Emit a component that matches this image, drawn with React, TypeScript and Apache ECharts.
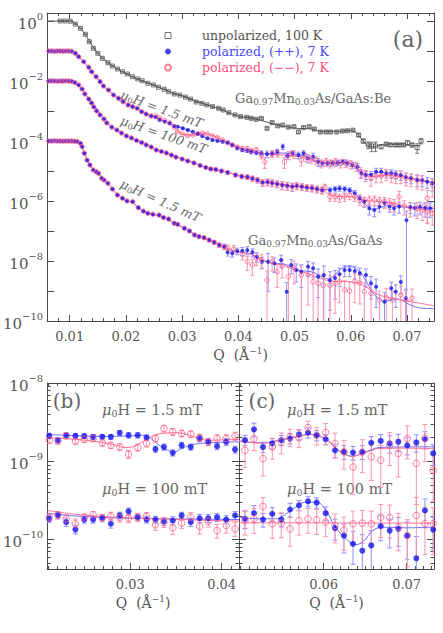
import React, { useEffect, useRef } from 'react';
import * as echarts from 'echarts';

// ---------- panel (a): [Q, I, relative error] ----------
const unpol100K = [
  [0.0083,1.0,0.03],[0.0092,1.0,0.03],[0.0101,0.98,0.03],[0.0110,0.79,0.03],[0.0119,0.57,0.03],[0.0128,0.36,0.03],
  [0.0135,0.204,0.03],[0.0142,0.123,0.03],[0.0150,0.084,0.03],[0.0158,0.057,0.03],[0.0168,0.0407,0.03],[0.0176,0.0316,0.03],
  [0.0185,0.0251,0.03],[0.0194,0.0204,0.03],[0.0203,0.0171,0.03],[0.0212,0.0139,0.03],[0.0221,0.0117,0.03],[0.0229,0.0102,0.03],
  [0.0239,0.0084,0.03],[0.0249,0.0074,0.03],[0.0258,0.0062,0.03],[0.0268,0.0053,0.03],[0.0276,0.0044,0.03],[0.0286,0.0037,0.04],
  [0.0296,0.0034,0.04],[0.0306,0.0029,0.04],[0.0315,0.0025,0.04],[0.0325,0.0020,0.04],[0.0335,0.0018,0.04],[0.0344,0.0016,0.04],
  [0.0354,0.0014,0.05],[0.0365,0.00123,0.05],[0.0373,0.00108,0.05],[0.0383,0.00088,0.05],[0.0394,0.00074,0.05],[0.0404,0.00065,0.06],
  [0.0415,0.00062,0.06],[0.0423,0.00057,0.06],[0.0432,0.00053,0.06],[0.0441,0.00057,0.07],[0.0451,0.000265,0.08],[0.0460,0.00041,0.07],
  [0.0470,0.00032,0.08],[0.0479,0.00034,0.08],[0.0489,0.00029,0.08],[0.0499,0.0003,0.08],[0.0507,0.0002,0.1],[0.0516,0.00028,0.08],
  [0.0526,0.0003,0.08],[0.0535,0.00025,0.08],[0.0546,0.0002,0.08],[0.0556,0.0002,0.08],[0.0564,0.0002,0.08],[0.0575,0.0002,0.08],
  [0.0585,0.000215,0.08],[0.0594,0.00022,0.08],[0.0604,0.00023,0.08],[0.0614,0.000158,0.1],[0.0622,0.0001,0.15],[0.0631,7.4e-5,0.25],
  [0.0637,6.8e-5,0.35],[0.0644,6.8e-5,0.35],[0.0654,6.5e-5,0.15],[0.0663,7.9e-5,0.12],[0.0670,7.4e-5,0.12],[0.0679,7.4e-5,0.12],
  [0.0686,7.4e-5,0.12],[0.0694,7.4e-5,0.12],[0.0701,8.8e-5,0.15],[0.0709,7.4e-5,0.15],[0.0718,6.0e-5,0.35],[0.0725,1.0e-4,0.2]
];
const unpol100KFit = [
  [0.006,1.0],[0.0102,1.0],[0.0106,0.95],[0.0111,0.80],[0.0118,0.60],[0.0125,0.42],[0.0132,0.27],[0.0138,0.175],[0.0145,0.11],
  [0.0152,0.077],[0.016,0.054],[0.017,0.039],[0.018,0.029],[0.019,0.0225],[0.020,0.0178],[0.021,0.0143],[0.022,0.0118],[0.023,0.0100],
  [0.024,0.0084],[0.025,0.0072],[0.026,0.0060],[0.027,0.0051],[0.028,0.0043],[0.029,0.0037],[0.030,0.0032],[0.031,0.0027],[0.032,0.0023],
  [0.033,0.0020],[0.034,0.0017],[0.035,0.0015],[0.036,0.0013],[0.037,0.00112],[0.038,0.00093],[0.039,0.00078],[0.040,0.00068],
  [0.041,0.00062],[0.042,0.00058],[0.043,0.00054],[0.044,0.00049],[0.045,0.00043],[0.046,0.00038],[0.047,0.00034],[0.048,0.00031],
  [0.049,0.00029],[0.050,0.00027],[0.051,0.00026],[0.052,0.00026],[0.053,0.00025],[0.054,0.00022],[0.055,0.00021],[0.056,0.00021],
  [0.057,0.00021],[0.058,0.00021],[0.059,0.00022],[0.060,0.00022],[0.0608,0.0002],[0.0615,0.00015],[0.0622,0.0001],[0.063,7.2e-5],
  [0.0638,6.4e-5],[0.0646,6.8e-5],[0.0655,7.6e-5],[0.0665,7.8e-5],[0.068,7.6e-5],[0.070,7.3e-5],[0.0724,7.0e-5]
];

// Ga0.97Mn0.03As/GaAs:Be, 1.5 mT (shared part where ++ and -- coincide)
const beLowShared = [
  [0.0063,0.1,0.03],[0.0068,0.1,0.03],[0.0073,0.098,0.03],[0.0078,0.1,0.03],[0.0083,0.1,0.03],[0.0088,0.099,0.03],[0.0093,0.1,0.03],
  [0.0098,0.1,0.03],[0.0103,0.098,0.03],[0.0110,0.084,0.03],[0.0116,0.0646,0.03],[0.0125,0.044,0.03],[0.0134,0.0286,0.03],
  [0.0139,0.0204,0.03],[0.0147,0.0139,0.03],[0.0154,0.0095,0.03],[0.0160,0.0068,0.03],[0.0169,0.005,0.03],[0.0178,0.0034,0.03],
  [0.0187,0.00265,0.03],[0.0195,0.00204,0.03],[0.0204,0.00158,0.03],[0.0212,0.00139,0.03],[0.0220,0.00123,0.03],[0.0228,0.00095,0.03],
  [0.0236,0.00079,0.03],[0.0245,0.00068,0.04]
];
const beLowPP = [
  [0.0253,0.00062,0.04],[0.0260,0.0005,0.04],[0.0269,0.00044,0.04],[0.0278,0.00039,0.04],[0.0286,0.000316,0.05],[0.0292,0.0003,0.05],
  [0.0301,0.000265,0.05],[0.0310,0.000233,0.05],[0.0319,0.000204,0.05],[0.0328,0.000171,0.06],[0.0336,0.000147,0.06],[0.0345,0.000123,0.06],
  [0.0354,0.000108,0.07],[0.0363,0.000102,0.07],[0.0372,9.5e-5,0.08],[0.0381,8.8e-5,0.08],[0.0389,7.4e-5,0.1],[0.0398,5.7e-5,0.1],
  [0.0407,5.0e-5,0.12],[0.0416,4.75e-5,0.12],[0.0423,4.4e-5,0.15],[0.0432,4.1e-5,0.15],[0.0441,3.9e-5,0.2],[0.0451,3.7e-5,0.25],
  [0.0460,3.9e-5,0.2],[0.0469,4.4e-5,0.2],[0.0479,6.5e-5,0.2],[0.0487,3.2e-5,0.25],[0.0496,3.9e-5,0.2],[0.0507,3.4e-5,0.25],
  [0.0516,3.9e-5,0.2],[0.0524,2.65e-5,0.3],[0.0533,3.0e-5,0.3],[0.0542,2.04e-5,0.3],[0.0550,1.8e-5,0.2],[0.0559,1.8e-5,0.2],
  [0.0568,1.85e-5,0.2],[0.0577,1.9e-5,0.2],[0.0586,2.04e-5,0.2],[0.0594,1.8e-5,0.2],[0.0603,1.58e-5,0.25],[0.0612,1.39e-5,0.3],
  [0.0619,8.4e-6,0.3],[0.0627,7.4e-6,0.3],[0.0636,7.4e-6,0.3],[0.0645,9.5e-6,0.3],[0.0654,9.5e-6,0.3],[0.0663,8.4e-6,0.3],
  [0.0672,8.4e-6,0.3],[0.0680,7.8e-6,0.3],[0.0689,7.4e-6,0.35],[0.0698,6.3e-6,0.35],[0.0707,5.8e-6,0.35],[0.0718,5.0e-6,0.4],
  [0.0727,5.0e-6,0.4],[0.0736,4.4e-6,0.4],[0.0745,3.9e-6,0.45]
];
const beLowMM = [
  [0.0253,0.00068,0.04],[0.0260,0.00058,0.04],[0.0269,0.00048,0.04],[0.0278,0.0004,0.04],[0.0286,0.00029,0.05],[0.0292,0.000204,0.05],
  [0.0301,0.000171,0.05],[0.0310,0.000153,0.05],[0.0319,0.000158,0.05],[0.0328,0.000178,0.06],[0.0336,0.000185,0.06],[0.0345,0.000171,0.06],
  [0.0354,0.000147,0.07],[0.0363,0.000131,0.07],[0.0372,0.000108,0.08],[0.0381,8.9e-5,0.08],[0.0389,7.4e-5,0.1],[0.0398,6.3e-5,0.1],
  [0.0407,5.6e-5,0.15],[0.0416,5.4e-5,0.2],[0.0423,4.6e-5,0.2],[0.0432,5.0e-5,0.2],[0.0441,3.4e-5,0.25],[0.0447,2.04e-5,0.4],
  [0.0460,3.7e-5,0.25],[0.0470,3.9e-5,0.25],[0.0482,2.04e-5,0.4],[0.0490,3.4e-5,0.3],[0.0499,3.7e-5,0.3],[0.0512,2.3e-5,0.35],
  [0.0520,2.9e-5,0.3],[0.0529,2.5e-5,0.3],[0.0538,2.3e-5,0.3],[0.0547,1.8e-5,0.3],[0.0556,2.0e-5,0.3],[0.0564,1.8e-5,0.3],
  [0.0573,2.0e-5,0.3],[0.0582,1.8e-5,0.3],[0.0591,1.85e-5,0.3],[0.0600,1.7e-5,0.3],[0.0609,1.47e-5,0.35],[0.0617,9.3e-6,0.4],
  [0.0626,7.4e-6,0.4],[0.0636,5.7e-6,0.45],[0.0645,6.8e-6,0.4],[0.0654,6.8e-6,0.4],[0.0663,7.9e-6,0.4],[0.0672,6.8e-6,0.4],
  [0.0680,6.3e-6,0.4],[0.0689,6.8e-6,0.45],[0.0698,5.8e-6,0.45],[0.0707,5.4e-6,0.45],[0.0718,5.0e-6,0.5],[0.0727,4.6e-6,0.5],
  [0.0736,1.23e-6,0.85],[0.0745,3.4e-6,0.6]
];
const beLowFitShared = [
  [0.006,0.1],[0.0104,0.1],[0.0108,0.092],[0.0113,0.078],[0.0118,0.061],[0.0125,0.044],[0.0132,0.031],[0.0139,0.021],[0.0146,0.0145],
  [0.0153,0.0100],[0.016,0.0070],[0.0168,0.0051],[0.0176,0.0037],[0.0185,0.0028],[0.0195,0.0021],[0.0205,0.0016],[0.0215,0.00135],
  [0.0225,0.00105],[0.0235,0.00082],[0.0245,0.00068]
];
const beLowFitPP = [
  [0.0255,0.00058],[0.0265,0.00047],[0.0275,0.0004],[0.0285,0.00033],[0.0295,0.00029],[0.0305,0.00025],[0.0315,0.00021],[0.0325,0.000175],
  [0.0335,0.00015],[0.0345,0.000125],[0.0355,0.00011],[0.0365,0.0001],[0.0375,9.2e-5],[0.0385,8.2e-5],[0.0395,6.4e-5],[0.0405,5.2e-5],
  [0.0415,4.6e-5],[0.0425,4.3e-5],[0.0435,4.0e-5],[0.0445,3.8e-5],[0.0455,3.8e-5],[0.0465,3.9e-5],[0.0475,4.0e-5],[0.0485,3.9e-5],
  [0.0495,3.7e-5],[0.0505,3.5e-5],[0.0515,3.3e-5],[0.0525,2.8e-5],[0.0535,2.3e-5],[0.0545,1.9e-5],[0.0555,1.8e-5],[0.0565,1.8e-5],
  [0.0575,1.9e-5],[0.0585,1.95e-5],[0.0595,1.9e-5],[0.0603,1.6e-5],[0.061,1.2e-5],[0.0618,9.2e-6],[0.0626,7.8e-6],[0.0635,7.8e-6],
  [0.0645,8.8e-6],[0.0655,9.0e-6],[0.0665,8.7e-6],[0.0675,8.2e-6],[0.0685,7.6e-6],[0.0695,6.8e-6],[0.0705,6.0e-6],[0.0715,5.3e-6],
  [0.0725,4.9e-6],[0.0735,4.5e-6],[0.0748,4.0e-6]
];
const beLowFitMM = [
  [0.0255,0.00062],[0.0265,0.0005],[0.0275,0.00041],[0.0285,0.0003],[0.0293,0.00021],[0.030,0.000175],[0.031,0.000158],[0.032,0.00016],
  [0.033,0.000174],[0.034,0.000178],[0.035,0.000163],[0.036,0.000138],[0.037,0.000113],[0.038,9.2e-5],[0.039,7.5e-5],[0.040,6.3e-5],
  [0.041,5.5e-5],[0.042,4.9e-5],[0.043,4.5e-5],[0.044,4.0e-5],[0.045,3.7e-5],[0.046,3.6e-5],[0.047,3.5e-5],[0.048,3.4e-5],[0.049,3.3e-5],
  [0.050,3.2e-5],[0.051,3.0e-5],[0.052,2.7e-5],[0.053,2.4e-5],[0.054,2.1e-5],[0.055,1.9e-5],[0.056,1.9e-5],[0.057,1.9e-5],[0.058,1.8e-5],
  [0.059,1.82e-5],[0.060,1.7e-5],[0.061,1.3e-5],[0.062,8.8e-6],[0.063,6.8e-6],[0.064,6.6e-6],[0.065,7.0e-6],[0.066,7.2e-6],[0.068,6.8e-6],
  [0.070,6.1e-6],[0.072,5.2e-6],[0.0748,4.2e-6]
];

// Ga0.97Mn0.03As/GaAs:Be, 100 mT
const beHighShared = [
  [0.0063,0.01,0.03],[0.0068,0.0101,0.03],[0.0073,0.01,0.03],[0.0078,0.0099,0.03],[0.0083,0.01,0.03],[0.0088,0.01,0.03],[0.0093,0.0101,0.03],
  [0.0098,0.01,0.03],[0.0103,0.0098,0.03],[0.0109,0.0089,0.03],[0.0116,0.0074,0.03],[0.0122,0.0054,0.03],[0.0127,0.0037,0.03],
  [0.0134,0.0025,0.03],[0.0139,0.00185,0.03],[0.0143,0.00136,0.03],[0.0148,0.001,0.03],[0.0154,0.00074,0.03],[0.0161,0.00054,0.03],
  [0.0166,0.0004,0.03],[0.0175,0.00029,0.03],[0.0184,0.000233,0.03],[0.0192,0.000185,0.03],[0.0201,0.000147,0.03],[0.0210,0.000126,0.03],
  [0.0219,0.000104,0.03],[0.0228,8.9e-5,0.04],[0.0236,7.4e-5,0.04],[0.0245,6.3e-5,0.04],[0.0254,5.0e-5,0.05],[0.0263,4.5e-5,0.05],
  [0.0272,4.0e-5,0.05],[0.0281,3.4e-5,0.05],[0.0289,2.9e-5,0.06],[0.0300,2.5e-5,0.06],[0.0310,2.15e-5,0.06],[0.0321,1.85e-5,0.07],
  [0.0332,1.53e-5,0.07],[0.0342,1.31e-5,0.08],[0.0351,1.17e-5,0.08],[0.0360,1.12e-5,0.1],[0.0370,1.0e-5,0.1],[0.0381,8.9e-6,0.12],
  [0.0395,7.4e-6,0.12],[0.0406,6.6e-6,0.15],[0.0416,6.3e-6,0.15],[0.0425,5.6e-6,0.2],[0.0434,5.0e-6,0.2],[0.0443,4.1e-6,0.25],
  [0.0452,4.3e-6,0.25],[0.0460,4.0e-6,0.25],[0.0469,3.7e-6,0.25],[0.0478,3.4e-6,0.3],[0.0487,3.2e-6,0.3],[0.0496,3.0e-6,0.3],
  [0.0504,3.2e-6,0.25],[0.0513,3.0e-6,0.25],[0.0522,2.8e-6,0.25],[0.0531,2.7e-6,0.25],[0.0540,2.5e-6,0.25],[0.0549,2.3e-6,0.25]
];
const beHighPP = [
  [0.0563,2.3e-6,0.2],[0.0572,2.5e-6,0.2],[0.0580,2.65e-6,0.2],[0.0589,2.5e-6,0.2],[0.0598,2.3e-6,0.2],[0.0607,1.8e-6,0.25],
  [0.0616,1.23e-6,0.3],[0.0624,9.5e-7,0.35],[0.0633,5.7e-7,0.4],[0.0642,5.0e-7,0.4],[0.0651,6.5e-7,0.35],[0.0660,8.4e-7,0.3],
  [0.0669,6.5e-7,0.35],[0.0677,5.7e-7,0.4],[0.0686,6.5e-7,0.4],[0.0699,2.3e-7,1.0],[0.0706,6.3e-7,0.4],[0.0714,5.8e-7,0.45],
  [0.0723,6.3e-7,0.45],[0.0732,5.8e-7,0.5],[0.0741,5.7e-7,0.5]
];
const beHighMM = [
  [0.0554,2.9e-6,0.25],[0.0563,1.39e-6,0.3],[0.0572,1.39e-6,0.3],[0.0580,1.29e-6,0.3],[0.0589,1.39e-6,0.3],[0.0598,1.58e-6,0.3],
  [0.0607,1.39e-6,0.3],[0.0616,1.08e-6,0.35],[0.0624,1.0e-6,0.35],[0.0633,1.08e-6,0.35],[0.0642,1.08e-6,0.35],[0.0651,1.0e-6,0.35],
  [0.0660,9.3e-7,0.4],[0.0669,8.6e-7,0.4],[0.0677,7.8e-7,0.45],[0.0686,1.39e-6,0.5],[0.0695,6.8e-7,0.5],[0.0706,5.8e-7,0.5],
  [0.0718,5.7e-7,0.55],[0.0727,5.0e-7,0.55],[0.0736,4.4e-7,0.6],[0.0745,3.9e-7,0.6]
];
const beHighFitShared = [
  [0.006,0.01],[0.0104,0.01],[0.0108,0.0092],[0.0113,0.0080],[0.0118,0.0064],[0.0123,0.0050],[0.0128,0.0036],[0.0134,0.0026],[0.014,0.0018],
  [0.0146,0.00125],[0.0152,0.00088],[0.0158,0.00064],[0.0165,0.00045],[0.0172,0.00033],[0.018,0.00025],[0.019,0.000195],[0.020,0.000153],
  [0.021,0.000125],[0.022,0.000104],[0.023,8.7e-5],[0.024,7.1e-5],[0.025,5.7e-5],[0.026,4.7e-5],[0.027,4.1e-5],[0.028,3.5e-5],[0.029,3.0e-5],
  [0.030,2.5e-5],[0.031,2.2e-5],[0.032,1.9e-5],[0.033,1.6e-5],[0.034,1.38e-5],[0.035,1.22e-5],[0.036,1.1e-5],[0.037,1.01e-5],[0.038,9.1e-6],
  [0.039,8.1e-6],[0.040,7.0e-6],[0.041,6.5e-6],[0.042,5.9e-6],[0.043,5.2e-6],[0.044,4.5e-6],[0.045,4.2e-6],[0.046,4.0e-6],[0.047,3.7e-6],
  [0.048,3.5e-6],[0.049,3.2e-6],[0.050,3.1e-6],[0.051,3.0e-6],[0.052,2.9e-6],[0.053,2.7e-6],[0.054,2.5e-6]
];
const beHighFitPP = [
  [0.055,2.4e-6],[0.056,2.4e-6],[0.057,2.5e-6],[0.058,2.6e-6],[0.059,2.5e-6],[0.060,2.2e-6],[0.061,1.6e-6],[0.062,1.0e-6],[0.063,6.6e-7],
  [0.064,5.2e-7],[0.065,5.8e-7],[0.066,6.8e-7],[0.067,7.0e-7],[0.068,6.6e-7],[0.070,6.2e-7],[0.072,6.0e-7],[0.0748,5.6e-7]
];
const beHighFitMM = [
  [0.055,2.2e-6],[0.056,1.7e-6],[0.057,1.5e-6],[0.058,1.4e-6],[0.059,1.4e-6],[0.060,1.4e-6],[0.061,1.3e-6],[0.062,1.1e-6],[0.063,1.02e-6],
  [0.064,1.0e-6],[0.066,9.2e-7],[0.068,8.0e-7],[0.070,6.6e-7],[0.072,5.5e-7],[0.0748,4.2e-7]
];

// Ga0.97Mn0.03As/GaAs, 1.5 mT
const gaasShared = [
  [0.0063,1.0e-4,0.03],[0.0068,1.0e-4,0.03],[0.0073,1.01e-4,0.03],[0.0078,1.0e-4,0.03],[0.0083,1.0e-4,0.03],[0.0088,9.9e-5,0.03],
  [0.0093,1.0e-4,0.03],[0.0098,1.0e-4,0.03],[0.0103,1.0e-4,0.03],[0.0108,9.8e-5,0.03],[0.0113,9.7e-5,0.03],[0.0119,8.4e-5,0.03],
  [0.0122,6.5e-5,0.03],[0.0126,3.9e-5,0.03],[0.0131,2.3e-5,0.03],[0.0136,1.58e-5,0.03],[0.0142,1.08e-5,0.03],[0.0147,9.5e-6,0.03],
  [0.0151,8.4e-6,0.03],[0.0157,5.7e-6,0.03],[0.0161,5.0e-6,0.03],[0.0168,3.9e-6,0.03],[0.0176,2.5e-6,0.03],[0.0185,1.58e-6,0.04],
  [0.0194,1.23e-6,0.04],[0.0202,1.0e-6,0.04],[0.0212,9.5e-7,0.04],[0.0222,6.0e-7,0.05],[0.0231,4.6e-7,0.05],[0.0239,3.9e-7,0.05],
  [0.0248,3.6e-7,0.05],[0.0259,3.4e-7,0.06],[0.0267,2.8e-7,0.06],[0.0276,2.5e-7,0.06],[0.0286,1.8e-7,0.07],[0.0292,1.67e-7,0.07],
  [0.0304,1.23e-7,0.08],[0.0313,1.0e-7,0.08],[0.0322,7.4e-8,0.1],[0.0330,6.5e-8,0.1],[0.0339,6.0e-8,0.12],[0.0348,5.0e-8,0.12],
  [0.0357,4.2e-8,0.15],[0.0366,3.4e-8,0.15],[0.0375,3.0e-8,0.2]
];
const gaasPP = [
  [0.0381,1.95e-8,0.25],[0.0389,1.8e-8,0.25],[0.0398,2.15e-8,0.25],[0.0407,2.15e-8,0.3],[0.0416,2.3e-8,0.3],[0.0425,1.95e-8,0.3],
  [0.0433,1.39e-8,0.35],[0.0442,9.5e-9,0.4],[0.0453,9.5e-9,0.9],[0.0464,8.4e-9,0.5],[0.0476,1.08e-8,0.45],[0.0486,9.5e-10,1.0],
  [0.0494,7.4e-9,0.5],[0.0503,5.0e-9,0.6],[0.0512,4.4e-9,0.7],[0.0524,6.5e-9,0.5],[0.0533,5.7e-9,0.5],[0.0542,3.0e-9,0.8],
  [0.0552,3.4e-9,1.0],[0.0563,2.3e-9,0.9],[0.0572,2.7e-9,0.8],[0.0580,3.6e-9,0.6],[0.0589,5.0e-9,0.4],[0.0598,5.0e-9,0.4],
  [0.0607,4.6e-9,0.45],[0.0616,3.9e-9,0.5],[0.0627,3.4e-9,0.6],[0.0636,1.8e-9,0.7],[0.0645,1.39e-9,0.8],[0.0660,4.4e-10,1.0],
  [0.0672,1.23e-9,0.6],[0.0680,9.5e-10,0.7],[0.0689,2.0e-9,0.6],[0.0698,5.7e-10,1.0]
];
const gaasMM = [
  [0.0381,2.7e-8,0.25],[0.0392,2.5e-8,0.3],[0.0407,1.67e-8,0.35],[0.0416,9.5e-9,0.5],[0.0425,7.4e-9,0.55],[0.0432,1.26e-8,0.45],
  [0.0441,1.08e-8,0.5],[0.0451,2.3e-9,1.0],[0.0460,9.3e-9,0.5],[0.0469,4.4e-9,0.7],[0.0478,6.8e-9,0.6],[0.0489,3.0e-9,1.0],
  [0.0499,5.8e-9,0.7],[0.0512,3.4e-9,1.0],[0.0524,3.4e-9,0.9],[0.0533,2.04e-9,1.0],[0.0542,1.8e-9,1.0],[0.0551,1.58e-9,1.0],
  [0.0563,1.58e-9,1.0],[0.0572,1.8e-9,0.9],[0.0580,2.04e-9,0.8],[0.0589,1.08e-9,1.0],[0.0598,1.0e-9,1.0],[0.0607,2.04e-9,0.8],
  [0.0616,1.85e-9,0.8],[0.0624,9.5e-10,1.0],[0.0636,8.4e-10,1.0],[0.0651,5.0e-10,1.0],[0.0663,6.0e-10,1.0],[0.0674,5.0e-10,1.0],
  [0.0689,7.4e-10,1.0],[0.0698,5.0e-10,1.0],[0.0709,5.8e-10,1.0]
];
const gaasFitShared = [
  [0.006,1e-4],[0.0109,1e-4],[0.0114,9.6e-5],[0.0118,8.5e-5],[0.0122,6.5e-5],[0.0126,4.2e-5],[0.013,2.6e-5],[0.0135,1.75e-5],[0.014,1.25e-5],
  [0.0145,1.0e-5],[0.015,8.5e-6],[0.0155,6.8e-6],[0.016,5.3e-6],[0.0165,4.3e-6],[0.017,3.5e-6],[0.0175,2.7e-6],[0.018,2.05e-6],[0.0185,1.6e-6],
  [0.019,1.35e-6],[0.0195,1.17e-6],[0.020,1.05e-6],[0.0205,9.8e-7],[0.021,9.2e-7],[0.0215,8.0e-7],[0.022,6.6e-7],[0.0225,5.5e-7],
  [0.023,4.7e-7],[0.0235,4.2e-7],[0.024,3.9e-7],[0.025,3.5e-7],[0.026,3.2e-7],[0.027,2.65e-7],[0.028,2.1e-7],[0.029,1.7e-7],[0.030,1.35e-7],
  [0.031,1.07e-7],[0.032,8.2e-8],[0.033,6.7e-8],[0.034,5.8e-8],[0.035,4.8e-8],[0.036,3.9e-8],[0.037,3.2e-8],[0.038,2.6e-8],[0.039,2.2e-8],
  [0.040,2.0e-8],[0.041,1.9e-8],[0.042,1.75e-8],[0.043,1.45e-8],[0.044,1.15e-8],[0.045,9.5e-9]
];
const gaasFitPP = [
  [0.046,8.5e-9],[0.047,8.2e-9],[0.048,8.0e-9],[0.049,7.0e-9],[0.050,5.7e-9],[0.051,4.8e-9],[0.052,4.6e-9],[0.053,4.4e-9],[0.054,3.6e-9],
  [0.055,2.9e-9],[0.056,2.5e-9],[0.057,3.2e-9],[0.058,5.0e-9],[0.059,6.3e-9],[0.060,6.4e-9],[0.061,5.5e-9],[0.062,3.6e-9],[0.063,1.7e-9],
  [0.064,8.5e-10],[0.065,5.5e-10],[0.066,4.5e-10],[0.067,5.0e-10],[0.068,5.5e-10],[0.069,5.0e-10],[0.070,3.9e-10],[0.071,3.2e-10],
  [0.072,2.8e-10],[0.0735,2.6e-10],[0.0748,2.6e-10]
];
const gaasFitMM = [
  [0.046,8.3e-9],[0.047,7.8e-9],[0.048,7.2e-9],[0.049,6.3e-9],[0.050,5.2e-9],[0.051,4.5e-9],[0.052,4.0e-9],[0.053,3.5e-9],[0.054,2.9e-9],
  [0.055,2.5e-9],[0.056,2.2e-9],[0.057,2.1e-9],[0.058,2.1e-9],[0.059,2.1e-9],[0.060,2.0e-9],[0.061,1.9e-9],[0.062,1.6e-9],[0.063,1.25e-9],
  [0.064,9.5e-10],[0.065,7.5e-10],[0.066,6.5e-10],[0.068,5.5e-10],[0.070,4.6e-10],[0.072,4.0e-10],[0.0748,3.2e-10]
];

// ---------- panel (b) ----------
const qB = [0.02112,0.02208,0.02298,0.02399,0.02496,0.02593,0.02693,0.02787,0.02884,0.02981,0.03081,0.03178,0.03275,0.03368,0.03465,0.03562,0.03662,0.03759,0.03853,0.0395,0.0405,0.04147];
const bLowPP = [2.11e-9,1.86e-9,2.15e-9,2.11e-9,2.1e-9,2.05e-9,2.05e-9,2.05e-9,2.31e-9,2.15e-9,2.15e-9,2.01e-9,1.43e-9,1.52e-9,1.28e-9,1.6e-9,1.52e-9,1.95e-9,1.77e-9,1.56e-9,1.77e-9,1.41e-9];
const bLowMM = [1.86e-9,1.82e-9,2.11e-9,1.8e-9,1.9e-9,1.95e-9,1.72e-9,1.6e-9,1.52e-9,1.23e-9,1.5e-9,1.69e-9,1.95e-9,2.62e-9,2.38e-9,2.27e-9,2.22e-9,2.01e-9,1.77e-9,1.95e-9,1.95e-9,2.1e-9];
const bHighPP = [1.84e-10,2.03e-10,1.67e-10,1.34e-10,1.8e-10,1.8e-10,1.87e-10,1.59e-10,2.03e-10,2.29e-10,1.93e-10,1.8e-10,1.8e-10,1.7e-10,1.75e-10,2.03e-10,1.67e-10,1.87e-10,1.87e-10,1.93e-10,1.8e-10,2.03e-10];
const bHighMM = [1.93e-10,2.07e-10,1.84e-10,1.59e-10,1.93e-10,2.07e-10,1.9e-10,1.99e-10,1.9e-10,1.87e-10,1.93e-10,1.97e-10,1.54e-10,1.67e-10,1.41e-10,1.62e-10,1.93e-10,1.47e-10,1.7e-10,1.3e-10,1.51e-10,1.37e-10];
const bLowPPErr = [0.08,0.08,0.07,0.07,0.07,0.07,0.07,0.07,0.07,0.08,0.08,0.08,0.09,0.09,0.09,0.09,0.09,0.09,0.1,0.1,0.1,0.1];
const bLowMMErr = [0.09,0.09,0.08,0.08,0.08,0.09,0.09,0.09,0.1,0.12,0.1,0.1,0.1,0.1,0.1,0.1,0.1,0.1,0.11,0.12,0.12,0.12];
const bHighPPErr = [0.1,0.1,0.12,0.12,0.1,0.1,0.1,0.12,0.1,0.1,0.1,0.1,0.1,0.12,0.12,0.1,0.12,0.12,0.12,0.12,0.12,0.12];
const bHighMMErr = [0.1,0.1,0.12,0.15,0.1,0.1,0.1,0.12,0.12,0.12,0.12,0.12,0.15,0.15,0.18,0.15,0.15,0.2,0.15,0.2,0.2,0.2];
const bFitLowPP = [[0.0209,2.2e-9],[0.024,2.12e-9],[0.027,2.08e-9],[0.030,2.1e-9],[0.0312,2.15e-9],[0.032,2.05e-9],[0.033,1.65e-9],[0.034,1.4e-9],[0.0348,1.31e-9],[0.0356,1.45e-9],[0.0365,1.6e-9],[0.0377,1.69e-9],[0.0395,1.74e-9],[0.0419,1.77e-9]];
const bFitLowMM = [[0.0209,2.0e-9],[0.0251,1.86e-9],[0.028,1.65e-9],[0.0294,1.5e-9],[0.0305,1.56e-9],[0.0316,1.86e-9],[0.033,2.22e-9],[0.0352,2.31e-9],[0.037,2.05e-9],[0.0384,1.86e-9],[0.0419,1.9e-9]];
const bFitHighPP = [[0.0209,2.17e-10],[0.024,2.0e-10],[0.028,1.9e-10],[0.034,1.84e-10],[0.0419,1.8e-10]];
const bFitHighMM = [[0.0209,2.35e-10],[0.024,2.1e-10],[0.028,1.93e-10],[0.034,1.82e-10],[0.0419,1.72e-10]];

// ---------- panel (c) ----------
const qC = [0.05052,0.05161,0.05269,0.05381,0.0549,0.05595,0.05703,0.05812,0.05916,0.06025,0.06137,0.06245,0.06354,0.06466,0.06574,0.06688,0.06796,0.069,0.07008,0.07117,0.07221,0.0732];
const cLowPP = [1.86e-9,2.55e-9,1.52e-9,1.69e-9,1.86e-9,1.95e-9,2.2e-9,2.33e-9,2.15e-9,1.91e-9,1.38e-9,1.32e-9,1.29e-9,1.32e-9,1.72e-9,1.82e-9,1.69e-9,1.77e-9,1.6e-9,1.74e-9,1.91e-9,1.26e-9];
const cLowMM = [1.38e-9,1.95e-9,1.08e-9,1.52e-9,1.77e-9,2.05e-9,1.99e-9,2.7e-9,2.15e-9,2.33e-9,1.69e-9,1.32e-9,8.45e-10,1.3e-9,1.14e-9,1.03e-9,1.6e-9,1.26e-9,1.95e-9,9.35e-10,1.97e-9,7.7e-10];
const cHighPP = [1.84e-10,2.17e-10,1.8e-10,2.13e-10,1.8e-10,2.42e-10,2.73e-10,3.07e-10,2.96e-10,2.17e-10,1.4e-10,1.12e-10,8.8e-11,7.2e-11,8.4e-11,1.48e-10,1.3e-10,1.37e-10,1.12e-10,5.75e-11,2.35e-10,1.34e-10];
const cHighMM = [1.75e-10,1.84e-10,2.65e-10,1.59e-10,1.62e-10,1.37e-10,1.75e-10,1.84e-10,1.79e-10,1.67e-10,1.51e-10,1.33e-10,1.59e-10,1.62e-10,1.59e-10,1.93e-10,1.9e-10,1.44e-10,1.12e-10,2.03e-10,1.6e-10,1.6e-10];
const cLowPPErr = [0.15,0.2,0.15,0.15,0.15,0.15,0.15,0.15,0.15,0.15,0.2,0.2,0.2,0.2,0.2,0.2,0.25,0.25,0.25,0.25,0.25,0.3];
const cLowMMErr = [0.4,0.3,0.4,0.3,0.3,0.25,0.25,0.2,0.25,0.3,0.35,0.4,0.55,0.45,0.5,0.55,0.45,0.5,0.45,0.7,0.5,0.6];
const cHighPPErr = [0.25,0.25,0.2,0.2,0.2,0.2,0.15,0.15,0.15,0.2,0.3,0.4,0.45,0.6,0.55,0.35,0.4,0.4,0.5,0.9,0.4,0.45];
const cHighMMErr = [0.35,0.35,0.3,0.35,0.35,0.4,0.35,0.35,0.35,0.35,0.4,0.45,0.45,0.45,0.45,0.45,0.45,0.5,0.6,0.7,0.6,0.6];
const cFitLowPP = [[0.0498,1.82e-9],[0.0526,1.72e-9],[0.0550,1.9e-9],[0.0570,2.09e-9],[0.0582,2.22e-9],[0.0594,2.11e-9],[0.0606,1.82e-9],[0.0618,1.38e-9],[0.0634,1.16e-9],[0.0651,1.32e-9],[0.0667,1.5e-9],[0.0691,1.52e-9],[0.0733,1.53e-9]];
const cFitLowMM = [[0.0498,1.8e-9],[0.0526,1.7e-9],[0.0550,1.88e-9],[0.0570,2.07e-9],[0.0582,2.2e-9],[0.0594,2.1e-9],[0.0606,1.8e-9],[0.0618,1.37e-9],[0.0634,1.15e-9],[0.0651,1.3e-9],[0.0667,1.46e-9],[0.0691,1.47e-9],[0.0733,1.45e-9]];
const cFitHighPP = [[0.0498,1.93e-10],[0.0522,1.84e-10],[0.0542,1.84e-10],[0.0558,2.24e-10],[0.0578,3.0e-10],[0.0592,3.0e-10],[0.0604,2.24e-10],[0.0614,1.44e-10],[0.0627,1.02e-10],[0.0639,8.6e-11],[0.0649,9.7e-11],[0.0659,1.3e-10],[0.0671,1.44e-10],[0.0699,1.41e-10],[0.0733,1.44e-10]];
const cFitHighMM = [[0.0498,1.64e-10],[0.0615,1.63e-10],[0.0733,1.62e-10]];

// ---------- ticks ----------
const aLabelQ = [0.01,0.02,0.03,0.04,0.05,0.06,0.07];
const bLabelQ = [0.03,0.04];
const cLabelQ = [0.06,0.07];
const aLabelY = [1,1e-2,1e-4,1e-6,1e-8,1e-10];
const bcLabelY = [1e-8,1e-9,1e-10];

const NAME_UNPOL = 'unpolarized, 100 K';
const NAME_PP = 'polarized, (++), 7 K';
const NAME_MM = 'polarized, (\u2212\u2212), 7 K';

const FONT = 'DejaVu Serif';
const AX = '#4a4a4a';
const TXT = '#555';
const NOTE = '#666';
const BLUE = '#1414ee';
const BLUE_LINE = '#6f6fff';
const BLUE_ERR = '#8f8fff';
const PINK = '#ff5a82';
const PINK_LINE = '#ff7092';
const PINK_ERR = '#ff93ab';
const GREY = '#555';

function range(a: number, b: number, step: number) {
  const out: number[] = [];
  const n = Math.round((b - a) / step);
  for (let i = 0; i <= n; i++) out.push(+(a + i * step).toFixed(6));
  return out;
}
function logMinor(lo: number, hi: number) {
  const out: number[] = [];
  for (let e = -12; e <= 1; e++) {
    for (let m = 2; m <= 9; m++) {
      const v = +(m * Math.pow(10, e)).toPrecision(3);
      if (v > lo && v < hi) out.push(v);
    }
  }
  return out;
}
function decades(lo: number, hi: number) {
  const out: number[] = [];
  for (let e = -12; e <= 1; e++) { const v = Math.pow(10, e); if (v >= lo * 0.999 && v <= hi * 1.001) out.push(v); }
  return out;
}
const supText = (v: number) => {
  const e = Math.round(Math.log10(v));
  return `{b|10}{s|${e < 0 ? '\u2212' + -e : e}}`;
};

function xAxes(grid: number, min: number, max: number, minor: number[], major: number[], labels: number[]) {
  const base: any = { type: 'value', gridIndex: grid, min, max, splitLine: { show: false } };
  const line = { show: true, onZero: false, lineStyle: { color: AX, width: 1 } };
  return [
    { ...base, position: 'bottom', axisLine: line,
      axisTick: { show: true, inside: true, length: 3, customValues: minor, lineStyle: { color: AX } },
      axisLabel: { show: true, customValues: labels, formatter: (v: number) => v.toFixed(2), color: TXT, fontFamily: FONT, fontSize: 13, margin: 9 },
      name: 'Q  (\u00c5{s|\u22121})', nameLocation: 'middle', nameGap: 25,
      nameTextStyle: { color: TXT, fontFamily: FONT, fontSize: 14, rich: { s: { fontFamily: FONT, fontSize: 9, color: TXT, verticalAlign: 'top', padding: [0, 0, 8, 0] } } } },
    { ...base, position: 'bottom', axisLine: { show: false },
      axisTick: { show: true, inside: true, length: 6, customValues: major, lineStyle: { color: AX } }, axisLabel: { show: false } },
    { ...base, position: 'top', axisLine: line,
      axisTick: { show: true, inside: true, length: 3, customValues: minor, lineStyle: { color: AX } }, axisLabel: { show: false } },
    { ...base, position: 'top', axisLine: { show: false },
      axisTick: { show: true, inside: true, length: 6, customValues: major, lineStyle: { color: AX } }, axisLabel: { show: false } },
  ];
}
function yAxes(grid: number, min: number, max: number, major: number[], minor: number[] | null, labels: number[] | null) {
  const base: any = { type: 'log', logBase: 10, gridIndex: grid, min, max, splitLine: { show: false } };
  const line = { show: true, onZero: false, lineStyle: { color: AX, width: 1 } };
  const rich = {
    b: { fontFamily: FONT, fontSize: 15, color: TXT, lineHeight: 20, verticalAlign: 'bottom' },
    s: { fontFamily: FONT, fontSize: 10, color: TXT, lineHeight: 20, verticalAlign: 'top' },
  };
  const axes: any[] = [
    { ...base, position: 'left', axisLine: line,
      axisTick: { show: true, inside: true, length: 7, customValues: major, lineStyle: { color: AX } },
      axisLabel: labels ? { show: true, customValues: labels, formatter: supText, rich, margin: 4 } : { show: false } },
    { ...base, position: 'right', axisLine: line,
      axisTick: { show: true, inside: true, length: 7, customValues: major, lineStyle: { color: AX } }, axisLabel: { show: false } },
  ];
  if (minor) {
    axes.push({ ...base, position: 'left', axisLine: { show: false },
      axisTick: { show: true, inside: true, length: 3.5, customValues: minor, lineStyle: { color: AX } }, axisLabel: { show: false } });
    axes.push({ ...base, position: 'right', axisLine: { show: false },
      axisTick: { show: true, inside: true, length: 3.5, customValues: minor, lineStyle: { color: AX } }, axisLabel: { show: false } });
  }
  return axes;
}

function errSeries(data: number[][], xi: number, yi: number, color: string, yMin: number, yMax: number, cap: number): any {
  return {
    type: 'custom', xAxisIndex: xi, yAxisIndex: yi, silent: true, z: 1,
    dimensions: ['q', 'v', 'r'], encode: { x: 0, y: 1 },
    data,
    renderItem: (params: any, api: any) => {
      const q = api.value(0), v = api.value(1), r = api.value(2);
      let lo = v * (1 - r), hi = v * (1 + r);
      const loClip = lo <= yMin; if (loClip) lo = yMin;
      const hiClip = hi >= yMax; if (hiClip) hi = yMax;
      const p0 = api.coord([q, lo]); const p1 = api.coord([q, hi]);
      const st = { stroke: color, lineWidth: 1 };
      const ch: any[] = [{ type: 'line', shape: { x1: p0[0], y1: p0[1], x2: p1[0], y2: p1[1] }, style: st }];
      if (!loClip) ch.push({ type: 'line', shape: { x1: p0[0] - cap, y1: p0[1], x2: p0[0] + cap, y2: p0[1] }, style: st });
      if (!hiClip) ch.push({ type: 'line', shape: { x1: p1[0] - cap, y1: p1[1], x2: p1[0] + cap, y2: p1[1] }, style: st });
      return { type: 'group', children: ch };
    },
  };
}
function fitSeries(name: string, data: number[][], xi: number, yi: number, color: string): any {
  return { type: 'line', name, xAxisIndex: xi, yAxisIndex: yi, data, showSymbol: false, smooth: 0.35,
    lineStyle: { color, width: 1 }, itemStyle: { color }, z: 2, silent: true, legendHoverLink: false };
}
function ppSeries(data: number[][], xi: number, yi: number, size: number): any {
  return { type: 'scatter', name: NAME_PP, xAxisIndex: xi, yAxisIndex: yi, data: data.map(d => [d[0], d[1]]),
    symbol: 'circle', symbolSize: size, itemStyle: { color: BLUE }, z: 3, silent: true };
}
function mmSeries(data: number[][], xi: number, yi: number, size: number): any {
  return { type: 'scatter', name: NAME_MM, xAxisIndex: xi, yAxisIndex: yi, data: data.map(d => [d[0], d[1]]),
    symbol: 'circle', symbolSize: size, itemStyle: { color: 'rgba(255,255,255,0)', borderColor: PINK, borderWidth: 1 }, z: 4, silent: true };
}
const zip = (q: number[], v: number[], e: number[]) => q.map((x, i) => [x, v[i], e[i]]);

export default function App() {
  const ref = useRef<HTMLDivElement>(null);
  useEffect(() => {
    document.body.style.margin = '0';
    if (!ref.current) return;
    const chart = echarts.init(ref.current, null, { renderer: 'svg' });

    const aMin = 1e-10, aMax = 1.85;
    const bMin = 4.2e-11, bMax = 1e-8;

    const xA = xAxes(0, 0.006, 0.0748, range(0.006, 0.074, 0.002), aLabelQ, aLabelQ);
    const xB = xAxes(1, 0.0209, 0.0419, range(0.021, 0.041, 0.001), bLabelQ, bLabelQ);
    const xC = xAxes(2, 0.0498, 0.0733, range(0.050, 0.073, 0.001), cLabelQ, cLabelQ);
    const yA = yAxes(0, aMin, aMax, decades(aMin, aMax), null, aLabelY);
    const yB = yAxes(1, bMin, bMax, decades(bMin, bMax), logMinor(bMin, bMax), bcLabelY);
    const yC = yAxes(2, bMin, bMax, decades(bMin, bMax), logMinor(bMin, bMax), null);
    const XA = 0, XB = 4, XC = 8, YA = 0, YB = 2, YC = 6;

    const beLowAllPP = beLowShared.concat(beLowPP);
    const beLowAllMM = beLowShared.concat(beLowMM);
    const beHighAllPP = beHighShared.concat(beHighPP);
    const beHighAllMM = beHighShared.concat(beHighMM);
    const gaasAllPP = gaasShared.concat(gaasPP);
    const gaasAllMM = gaasShared.concat(gaasMM);

    const bLPP = zip(qB, bLowPP, bLowPPErr), bLMM = zip(qB, bLowMM, bLowMMErr);
    const bHPP = zip(qB, bHighPP, bHighPPErr), bHMM = zip(qB, bHighMM, bHighMMErr);
    const cLPP = zip(qC, cLowPP, cLowPPErr), cLMM = zip(qC, cLowMM, cLowMMErr);
    const cHPP = zip(qC, cHighPP, cHighPPErr), cHMM = zip(qC, cHighMM, cHighMMErr);

    const series: any[] = [
      errSeries(unpol100K, XA, YA, '#777', aMin, aMax, 2),
      errSeries(beLowAllPP, XA, YA, BLUE_ERR, aMin, aMax, 2),
      errSeries(beHighAllPP, XA, YA, BLUE_ERR, aMin, aMax, 2),
      errSeries(gaasAllPP, XA, YA, BLUE_ERR, aMin, aMax, 2),
      errSeries(beLowAllMM, XA, YA, PINK_ERR, aMin, aMax, 2),
      errSeries(beHighAllMM, XA, YA, PINK_ERR, aMin, aMax, 2),
      errSeries(gaasAllMM, XA, YA, PINK_ERR, aMin, aMax, 2),
      fitSeries('fit unpolarized', unpol100KFit, XA, YA, GREY),
      fitSeries('fit ++ Be 1.5', beLowFitShared.concat(beLowFitPP), XA, YA, BLUE_LINE),
      fitSeries('fit -- Be 1.5', beLowFitShared.concat(beLowFitMM), XA, YA, PINK_LINE),
      fitSeries('fit ++ Be 100', beHighFitShared.concat(beHighFitPP), XA, YA, BLUE_LINE),
      fitSeries('fit -- Be 100', beHighFitShared.concat(beHighFitMM), XA, YA, PINK_LINE),
      fitSeries('fit ++ GaAs', gaasFitShared.concat(gaasFitPP), XA, YA, BLUE_LINE),
      fitSeries('fit -- GaAs', gaasFitShared.concat(gaasFitMM), XA, YA, PINK_LINE),
      { type: 'scatter', name: NAME_UNPOL, xAxisIndex: XA, yAxisIndex: YA, data: unpol100K.map(d => [d[0], d[1]]),
        symbol: 'rect', symbolSize: 4, itemStyle: { color: 'rgba(255,255,255,0)', borderColor: GREY, borderWidth: 1 }, z: 3, silent: true },
      ppSeries(beLowAllPP, XA, YA, 4), ppSeries(beHighAllPP, XA, YA, 4), ppSeries(gaasAllPP, XA, YA, 4),
      mmSeries(beLowAllMM, XA, YA, 4.5), mmSeries(beHighAllMM, XA, YA, 4.5), mmSeries(gaasAllMM, XA, YA, 4.5),
      errSeries(bLPP, XB, YB, BLUE_ERR, bMin, bMax, 2.5), errSeries(bHPP, XB, YB, BLUE_ERR, bMin, bMax, 2.5),
      errSeries(bLMM, XB, YB, PINK_ERR, bMin, bMax, 2.5), errSeries(bHMM, XB, YB, PINK_ERR, bMin, bMax, 2.5),
      fitSeries('fit b ++ 1.5', bFitLowPP, XB, YB, BLUE_LINE), fitSeries('fit b -- 1.5', bFitLowMM, XB, YB, PINK_LINE),
      fitSeries('fit b ++ 100', bFitHighPP, XB, YB, BLUE_LINE), fitSeries('fit b -- 100', bFitHighMM, XB, YB, PINK_LINE),
      ppSeries(bLPP, XB, YB, 6), ppSeries(bHPP, XB, YB, 6), mmSeries(bLMM, XB, YB, 6.5), mmSeries(bHMM, XB, YB, 6.5),
      errSeries(cLPP, XC, YC, BLUE_ERR, bMin, bMax, 2.5), errSeries(cHPP, XC, YC, BLUE_ERR, bMin, bMax, 2.5),
      errSeries(cLMM, XC, YC, PINK_ERR, bMin, bMax, 2.5), errSeries(cHMM, XC, YC, PINK_ERR, bMin, bMax, 2.5),
      fitSeries('fit c ++ 1.5', cFitLowPP, XC, YC, BLUE_LINE), fitSeries('fit c -- 1.5', cFitLowMM, XC, YC, PINK_LINE),
      fitSeries('fit c ++ 100', cFitHighPP, XC, YC, BLUE_LINE), fitSeries('fit c -- 100', cFitHighMM, XC, YC, PINK_LINE),
      ppSeries(cLPP, XC, YC, 6), ppSeries(cHPP, XC, YC, 6), mmSeries(cLMM, XC, YC, 6.5), mmSeries(cHMM, XC, YC, 6.5),
    ];

    const sub = { fontFamily: FONT, fontSize: 9, fill: NOTE, verticalAlign: 'bottom', padding: [8, 0, 0, 0] };
    const mu = (size: number, italic: boolean) => ({
      m: { fontFamily: FONT, fontSize: size, fill: NOTE, fontStyle: 'italic' },
      z: { fontFamily: FONT, fontSize: size * 0.65, fill: NOTE, verticalAlign: 'bottom', padding: [size * 0.5, 0, 0, 0] },
      h: { fontFamily: FONT, fontSize: size, fill: NOTE, fontStyle: italic ? 'italic' : 'normal' },
    });
    const text = (x: number, y: number, t: string, size: number, rich: any, rotation = 0, align = 'left') => ({
      type: 'text', x, y, rotation, silent: true,
      style: { text: t, fontFamily: FONT, fontSize: size, fill: NOTE, align, verticalAlign: 'middle', rich },
    });

    chart.setOption({
      animation: false,
      backgroundColor: '#fff',
      grid: [
        { left: 44, top: 13, width: 390, height: 308 },
        { left: 44, top: 383, width: 195, height: 186 },
        { left: 239, top: 383, width: 195, height: 186 },
      ],
      xAxis: [...xA, ...xB, ...xC],
      yAxis: [...yA, ...yB, ...yC],
      legend: {
        orient: 'vertical', left: 159, top: 24, itemGap: 3, itemWidth: 58, itemHeight: 6,
        symbolKeepAspect: true, selectedMode: false,
        textStyle: { fontFamily: FONT, fontSize: 12.5 },
        data: [
          { name: NAME_UNPOL, icon: 'path://M0 0H10V10H0Z', itemStyle: { color: 'rgba(255,255,255,0)', borderColor: GREY, borderWidth: 1 }, textStyle: { color: '#555' } },
          { name: NAME_PP, textStyle: { color: '#4a4aff' } },
          { name: NAME_MM, textStyle: { color: '#ff4f7c' } },
        ],
      },
      graphic: [
        text(408, 39, '(a)', 22, null, 0, 'center'),
        text(67, 401, '(b)', 20, null, 0, 'center'),
        text(262, 401, '(c)', 20, null, 0, 'center'),
        text(235, 98, 'Ga{s|0.97}Mn{s|0.03}As/GaAs:Be', 13, { s: sub }),
        text(248, 240, 'Ga{s|0.97}Mn{s|0.03}As/GaAs', 13, { s: sub }),
        text(121, 94, '{m|\u03bc}{z|0}{h|H = 1.5 mT}', 12.5, mu(12.5, true), -0.35),
        text(121, 120, '{m|\u03bc}{z|0}{h|H = 100 mT}', 12.5, mu(12.5, true), -0.33),
        text(121, 183, '{m|\u03bc}{z|0}{h|H = 1.5 mT}', 12.5, mu(12.5, true), -0.42),
        text(102, 410, '{m|\u03bc}{z|0}{h|H = 1.5 mT}', 14.5, mu(14.5, false)),
        text(287, 410, '{m|\u03bc}{z|0}{h|H = 1.5 mT}', 14.5, mu(14.5, false)),
        text(102, 489, '{m|\u03bc}{z|0}{h|H = 100 mT}', 14.5, mu(14.5, false)),
        text(287, 489, '{m|\u03bc}{z|0}{h|H = 100 mT}', 14.5, mu(14.5, false)),
      ],
      series,
    });
    return () => chart.dispose();
  }, []);
  return <div ref={ref} style={{ width: 443, height: 633 }} />;
}
